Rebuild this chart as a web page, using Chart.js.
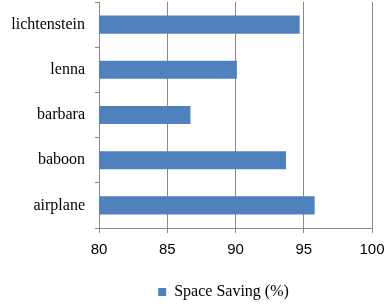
<!DOCTYPE html>
<html lang="en">
<head>
    <meta charset="UTF-8">
    <title>Space Saving</title>
    <style>
        body { margin: 0; background: #fff; }
        canvas { display: block; }
    </style>
    <script src="https://cdn.jsdelivr.net/npm/chart.js"></script>
</head>
<body>
    <canvas id="grafico" width="386" height="306"></canvas>
<script>
    // dados
    const imagens = ['lichtenstein', 'lenna', 'barbara', 'baboon', 'airplane']
    const economia = [94.7, 90.1, 86.7, 93.7, 95.8]
    const ticksX = [80, 85, 90, 95, 100]

    const cinza = '#898989'

    const ctx = document.getElementById('grafico')

    // a legenda do original fica um pouco a esquerda do centro
    const deslocaLegenda = {
        id: 'deslocaLegenda',
        afterLayout(chart) {
            chart.legend.left -= 12
            chart.legend.right -= 12
        }
    }

    new Chart(ctx, {
        type: 'bar',
        data: {
            labels: imagens,
            datasets: [{
                label: 'Space Saving (%)',
                data: economia,
                backgroundColor: '#4f81bd',
                borderWidth: 0,
                barPercentage: 0.4,
                categoryPercentage: 1
            }]
        },
        options: {
            indexAxis: 'y',
            responsive: false,
            animation: false,
            layout: {
                padding: { left: 0, right: 14, top: 2, bottom: -4 }
            },
            plugins: {
                legend: {
                    position: 'bottom',
                    fullSize: false,
                    labels: {
                        boxWidth: 8,
                        boxHeight: 8,
                        padding: 6,
                        color: '#000',
                        font: { family: 'Liberation Serif', size: 16 }
                    }
                },
                tooltip: { enabled: false }
            },
            scales: {
                x: {
                    min: ticksX[0],
                    max: ticksX[ticksX.length - 1],
                    afterBuildTicks: function (escala) {
                        escala.ticks = ticksX.map(v => ({ value: v }))
                    },
                    afterFit: function (escala) {
                        escala.height = 50
                        escala.paddingLeft = 0
                        escala.paddingRight = 0
                    },
                    grid: {
                        color: cinza,
                        lineWidth: 1,
                        tickLength: 5
                    },
                    border: { color: cinza },
                    ticks: {
                        padding: 8,
                        color: '#000',
                        font: { family: 'Liberation Sans', size: 15 }
                    }
                },
                y: {
                    afterFit: function (escala) {
                        escala.width = 99
                        escala.paddingTop = 0
                        escala.paddingBottom = 0
                    },
                    grid: {
                        drawOnChartArea: false,
                        color: cinza,
                        tickLength: 4
                    },
                    border: { color: cinza },
                    ticks: {
                        padding: 10,
                        color: '#000',
                        font: { family: 'Liberation Serif', size: 16 }
                    }
                }
            }
        },
        plugins: [deslocaLegenda]
    })
</script>
</body>
</html>
